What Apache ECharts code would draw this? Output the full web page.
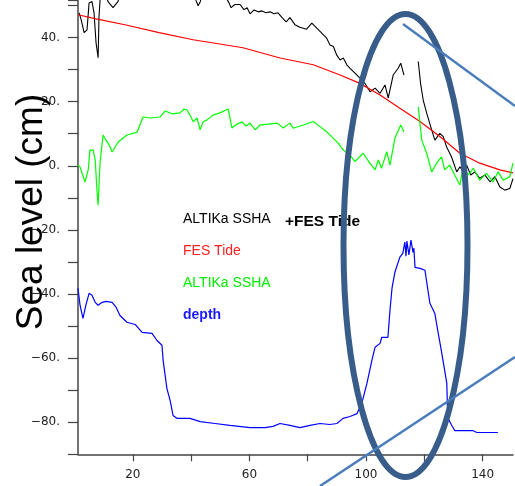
<!DOCTYPE html>
<html><head><meta charset="utf-8">
<script src="https://cdn.jsdelivr.net/npm/echarts@6/dist/echarts.min.js"></script>
<style>html,body{margin:0;padding:0;background:#fff}#c{width:515px;height:486px}</style>
</head><body><div id="c"></div>
<script>
// ---- data (distance along track, sea level / depth in cm) ----
const blackX = [1.6,2.3,3.3,4.3,5.0,6.0,6.7,7.4,8.1,8.4,8.8,10.2,11.5,13.2,14.9,16.3,20,25,30,35,41,41.7,42.4,43.1,44,48.2,51.6,53,53.7,55,56.8,58.1,59.2,60.2,61.6,63,64.3,65.7,67.1,68.4,69.8,71.2,72.6,73.9,75.6,77.3,79.6,81.4,83.1,84.8,86.5,87.6,88.8,89.9,91.1,92.2,93.4,94.5,96.2,97.9,99.6,101.4,103.1,104.8,106.5,107.6,109.3,111.0,111.9,113.0,115,117.9,118.7,119.6,120.8,122.5,123.6,125.3,126.5,127.6,129.3,131.1,132.2,133.3,134.5,135.9,137.3,139.0,140.8,142.5,144.2,145.9,147.6,149.3,150.4];
const blackY = [47.7,45.5,41.5,42.4,50.8,51.2,47.7,38.3,33.7,46.5,52,55,51.2,49.3,51.2,55,57,58,57,58,54,51.5,49.9,51.1,54,55,53,50.8,49.3,50.3,50.3,48.7,49.3,47.4,48.6,48,48.3,47.7,48,47.4,47.7,46.2,44.9,46.2,44.0,43.2,42.6,44.5,42.9,41.4,39.8,37.7,37.2,34.6,33.0,33.6,31.5,30.4,28.9,27.3,25.7,23.1,24.2,22.6,25.2,21.1,28.3,30.4,32.0,28.3,null,32.5,25.7,20.5,16.4,11.2,8.0,10.1,9.1,5.9,2.8,-1.9,-0.3,-1.9,0.2,-2.9,-1.9,-3.9,-2.9,-5.0,-3.4,-6.6,-7.6,-7.1,-4.0];
const redX = [1.2,7.4,17.7,29,40.7,57.8,70.5,81.9,91.1,97.9,104.8,111.6,118.5,125.3,132.2,139.0,145.9,150.4];
const redY = [47.1,45.8,43.9,41.5,39.3,36.8,33.6,31.5,28.3,25.7,22.1,17.9,13.8,9.1,3.9,0.8,-1.3,-2.2];
const greenX = [1.2,1.9,3.6,4.7,5.3,6.4,7.1,7.7,8.1,8.4,8.8,9.8,10.8,11.9,12.9,15.0,18.0,21.5,23.5,25.9,29.3,31.1,33.5,36.2,37.6,38.6,39.6,40.7,42.0,43.1,44.1,45.5,47.5,49.9,52.7,54.0,55.7,57.5,58.8,60.2,62.0,63.6,66.4,69.5,71.6,73.9,75.0,78.5,81.9,84.2,86.5,88.2,90.5,92.2,94.5,96.2,99.0,101.3,103.1,104.2,105.3,107.1,108.2,109.9,111.9,113.0,115,117.9,119.1,120.8,122.5,124.2,125.9,127.0,128.7,130.4,132.2,133.3,135.0,136.8,139.0,141.3,143.6,145.3,147.0,149.3,150.4];
const greenY = [0.2,-0.4,-5.1,-1.3,4.9,4.9,1.8,-7.6,-12.3,-6.0,1.2,9.6,8.0,6.5,4.3,7.4,9.6,10.5,15.2,14.9,15.2,17.1,16.2,16.5,17.7,17.4,15.8,13.7,14.9,11.2,13.7,14.3,15.8,16.5,17.7,11.8,13.0,13.7,12.4,13.3,11.2,12.7,13.0,13.3,11.8,13.3,11.7,12.7,13.8,12.2,10.6,9.1,7.0,4.9,3.3,1.3,3.9,0.8,-1.3,1.8,-0.8,4.4,0.2,8.6,12.7,10.6,null,18.4,8.0,3.9,-1.9,0.8,2.8,-1.3,0.2,-2.9,-6.0,-0.3,-2.9,-0.8,-4.5,-2.4,-5.0,-1.9,-4.5,-3.4,0.8];
const depthX = [1.2,1.9,2.9,3.9,5.0,6.0,7.1,8.1,9.5,10.8,12.9,14.3,15.6,18.0,20.8,23.2,26.6,28.3,30.0,30.4,31.7,32.8,33.8,35.2,39.6,43.1,48.2,53.3,60.2,65.4,68.1,70.5,73.9,77.3,80.8,84.2,87.6,90.0,92.1,94.5,96.9,98.6,100.3,102.0,103.1,104.8,105.4,107.5,108.2,108.9,109.9,111.6,112.6,113.3,113.7,114.0,114.7,115.4,116.1,116.4,116.8,118.5,120.2,121.9,123.6,124.6,126.0,127.7,128.0,129.4,130.4,136.6,138.0,145.2];
const depthY = [-38.2,-43.5,-47.6,-43.5,-39.8,-40.4,-42.6,-43.5,-42.6,-42.3,-42.6,-44.2,-46.7,-48.8,-49.5,-52.0,-52.3,-54.5,-56.0,-60.7,-69.5,-73.2,-77.9,-78.8,-78.8,-79.8,-80.4,-81.0,-81.7,-81.7,-81.3,-80.4,-81.0,-81.7,-81.0,-80.4,-80.7,-80.4,-78.8,-78.2,-77.3,-73.9,-67.9,-60.7,-56.6,-55.4,-53.5,-53.5,-45.1,-38.2,-33.2,-28.5,-27.3,-23.8,-28.2,-23.5,-27.8,-23.2,-27.0,-25.7,-31.7,-32.0,-32.6,-42.9,-46.1,-51.4,-58.6,-67.9,-78.5,-81.0,-82.6,-82.6,-83.2,-83.2];
const xLabelValues = [20,60,100,140];
const xTickValues = [20,40,60,80,100,120,140];
const legendNames = ['ALTIKa SSHA','+FES Tide','FES Tide','ALTIKa SSHA','depth'];
const yAxisTitle = 'Sea level (cm)';

function pairs(xs, ys){ return xs.map((x,i)=>[x, ys[i]]); }
const chart = echarts.init(document.getElementById('c'), null, {renderer:'canvas'});
const axisColor = '#444';
const lineSeries = (name, xs, ys, color, w) => ({
  name, type:'line', data:pairs(xs,ys), showSymbol:false, symbol:'none',
  lineStyle:{color, width:w}, connectNulls:false, animation:false, z:3
});
const legendFont = '14px "Liberation Sans"';
chart.setOption({
  animation:false,
  backgroundColor:'#fff',
  grid:{left:78, right:2, top:0, bottom:31.7, containLabel:false},
  xAxis:{
    type:'value', min:1.2, max:150.4,
    axisLine:{show:true, onZero:false, lineStyle:{color:axisColor, width:1.5}},
    axisTick:{show:true, length:7, customValues:xTickValues, lineStyle:{color:axisColor, width:1.2}},
    axisLabel:{customValues:xLabelValues, margin:15, color:'#222', fontSize:12, fontFamily:'DejaVu Sans'},
    splitLine:{show:false}
  },
  yAxis:{
    type:'value', min:-90, max:51.7, interval:10,
    axisLine:{show:true, onZero:false, lineStyle:{color:axisColor, width:1.5}},
    axisTick:{show:true, length:10, lineStyle:{color:axisColor, width:1.2}},
    axisLabel:{margin:18, color:'#222', fontSize:12, fontFamily:'DejaVu Sans',
      formatter:v=>{ const r=Math.round(v); if (Math.abs(v-r)>0.01 || r%20!==0) return ''; return (r<0?'\u2212'+(-r):''+r)+'.'; }},
    splitLine:{show:false}
  },
  series:[
    lineSeries('sum', blackX, blackY, '#000000', 1.1),
    lineSeries('fes', redX, redY, '#ff0000', 1.2),
    lineSeries('ssha', greenX, greenY, '#00ff00', 1.2),
    lineSeries('depth', depthX, depthY, '#0000ff', 1.2)
  ],
  graphic:[
    {type:'text', x:183, y:219.5, style:{text:legendNames[0], fill:'#000', font:legendFont, verticalAlign:'middle'}},
    {type:'text', x:285, y:222, style:{text:legendNames[1], fill:'#000', font:'bold 15.5px "Liberation Sans"', verticalAlign:'middle'}},
    {type:'text', x:183, y:251.5, style:{text:legendNames[2], fill:'#ff2020', font:legendFont, verticalAlign:'middle'}},
    {type:'text', x:183, y:283, style:{text:legendNames[3], fill:'#00ee00', font:legendFont, verticalAlign:'middle'}},
    {type:'text', x:183, y:315, style:{text:legendNames[4], fill:'#1a1aff', font:'bold 14px "Liberation Sans"', verticalAlign:'middle'}},
    {type:'text', x:32, y:212, rotation:Math.PI/2, z:10,
      style:{text:yAxisTitle, fill:'#000', font:'37px "Liberation Sans"', align:'center', verticalAlign:'middle'}},
    {type:'ellipse', z:20, shape:{cx:405.5, cy:245.5, rx:62, ry:231.5},
      style:{fill:'none', stroke:'#385d8a', lineWidth:6}},
    {type:'line', z:21, shape:{x1:403, y1:24, x2:515, y2:106}, style:{stroke:'#4a7ebb', lineWidth:2.5}},
    {type:'line', z:21, shape:{x1:320, y1:486, x2:515, y2:357}, style:{stroke:'#4a7ebb', lineWidth:2.5}}
  ]
});
</script></body></html>
